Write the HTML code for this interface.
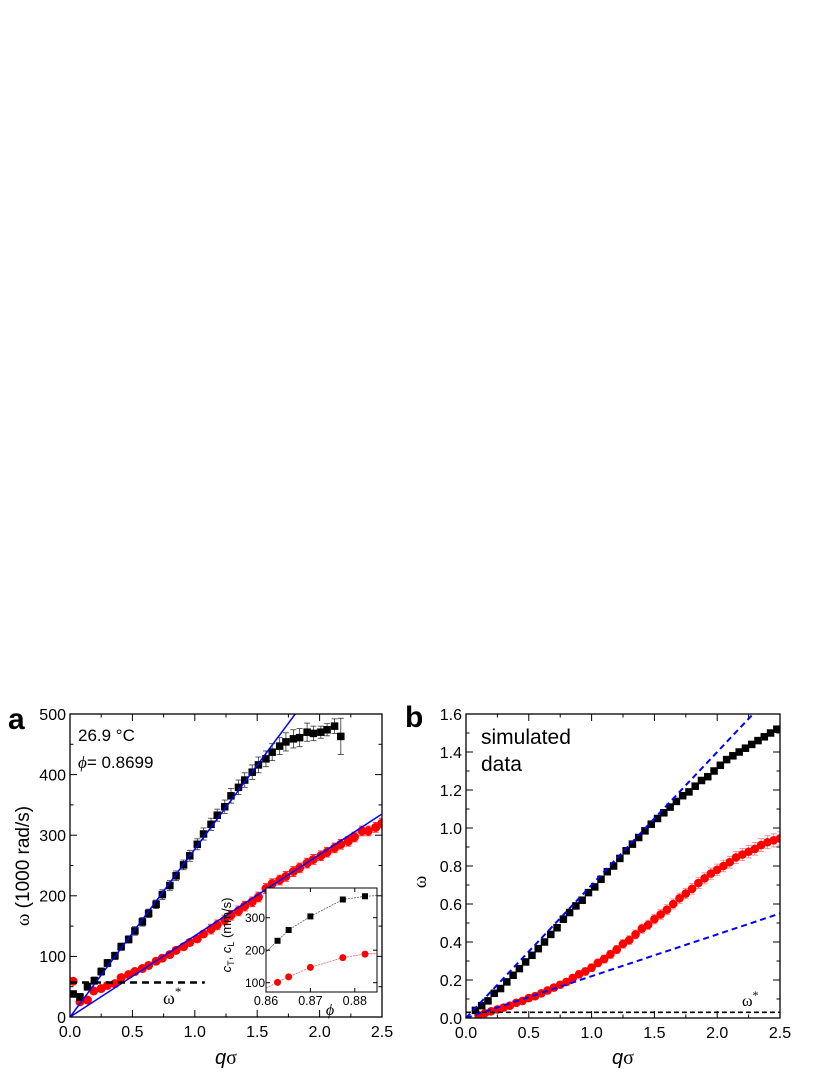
<!DOCTYPE html>
<html><head><meta charset="utf-8"><style>
body{margin:0;background:#fff}
svg{display:block;font-family:"Liberation Sans",Arial,sans-serif}
</style></head><body>
<svg id="s" width="830" height="1075" viewBox="0 0 830 1075"></svg>
<script>
// ---- Panel a data ----
const aBlackQ=[0.025,0.08,0.14,0.195,0.25,0.3,0.36,0.41,0.47,0.52,0.58,0.63,0.69,0.74,0.8,0.85,0.91,0.96,1.02,1.07,1.13,1.18,1.24,1.29,1.35,1.4,1.46,1.51,1.57,1.62,1.68,1.73,1.79,1.84,1.9,1.95,2.01,2.06,2.12,2.17];
const aBlackW=[38,33,50,60,75,89,101,116,128,142,157,171,186,202,217,233,251,266,285,302,318,333,347,365,379,391,404,416,426,437,447,454,459,461,470,468,470,474,480,463];
const aBlackErr=[5,6,6,6,6,6,6,6,6,7,7,7,7,8,8,8,8,9,9,10,10,10,11,12,12,12,12,13,13,14,14,15,15,15,15,12,10,10,12,30];
const aRedQ=[0.025,0.08,0.14,0.19,0.25,0.3,0.36,0.41,0.47,0.52,0.58,0.63,0.69,0.74,0.8,0.85,0.91,0.96,1.02,1.07,1.13,1.18,1.24,1.29,1.35,1.4,1.46,1.51,1.57,1.62,1.68,1.73,1.79,1.84,1.9,1.95,2.01,2.06,2.12,2.17,2.23,2.28,2.34,2.39,2.45,2.5];
const aRedW=[59,25,28,43,47,52,55,65,70,75,80,85,92,97,103,110,116,123,129,137,145,152,160,168,175,183,190,198,212,220,226,232,240,246,254,260,266,272,279,285,290,297,307,307,313,320];
const aSlopes=[277,134];
const aOmegaStar=57;
const aXTicks=[0,0.5,1.0,1.5,2.0,2.5];
const aYTicks=[0,100,200,300,400,500];
// inset
const inPhi=[0.8626,0.8651,0.87,0.8773,0.8823];
const inCT=[229,262,304,356,366];
const inCL=[101,118,147,177,188];
const inXTicks=[0.86,0.87,0.88];
const inYTicks=[100,200,300];
// ---- Panel b data ----
const bBlackQ=[0.075,0.125,0.175,0.225,0.275,0.325,0.375,0.425,0.475,0.525,0.575,0.625,0.675,0.725,0.775,0.825,0.875,0.925,0.975,1.025,1.075,1.125,1.175,1.225,1.275,1.325,1.375,1.425,1.475,1.525,1.575,1.625,1.675,1.725,1.775,1.825,1.875,1.925,1.975,2.025,2.075,2.125,2.175,2.225,2.275,2.325,2.375,2.425,2.475];
const bBlackW=[0.04,0.065,0.09,0.13,0.155,0.19,0.225,0.26,0.295,0.33,0.365,0.40,0.44,0.475,0.52,0.555,0.59,0.62,0.66,0.69,0.73,0.77,0.80,0.84,0.88,0.915,0.95,0.985,1.02,1.05,1.08,1.11,1.14,1.17,1.19,1.22,1.25,1.27,1.30,1.33,1.36,1.38,1.40,1.42,1.44,1.46,1.48,1.50,1.52];
const bRedQ=[0.1,0.15,0.2,0.25,0.3,0.35,0.4,0.45,0.5,0.55,0.6,0.65,0.7,0.75,0.8,0.85,0.9,0.95,1.0,1.05,1.1,1.15,1.2,1.25,1.3,1.35,1.4,1.45,1.5,1.55,1.6,1.65,1.7,1.75,1.8,1.85,1.9,1.95,2.0,2.05,2.1,2.15,2.2,2.25,2.3,2.35,2.4,2.45,2.5];
const bRedW=[0.015,0.025,0.035,0.045,0.055,0.065,0.08,0.09,0.105,0.115,0.13,0.145,0.16,0.175,0.19,0.21,0.23,0.245,0.265,0.29,0.31,0.335,0.36,0.39,0.41,0.44,0.47,0.49,0.52,0.545,0.57,0.60,0.63,0.655,0.68,0.71,0.735,0.76,0.78,0.80,0.82,0.845,0.86,0.875,0.89,0.91,0.925,0.935,0.945];
const bSlopes=[0.70,0.22];
const bOmegaStar=0.03;
const bXTicks=[0,0.5,1.0,1.5,2.0,2.5];
const bYTicks=[0,0.2,0.4,0.6,0.8,1.0,1.2,1.4,1.6];

const NS="http://www.w3.org/2000/svg";
const svg=document.getElementById('s');
function mk(tag,attrs,parent,text){const e=document.createElementNS(NS,tag);for(const k in attrs)e.setAttribute(k,attrs[k]);if(text!==undefined)e.textContent=text;(parent||svg).appendChild(e);return e;}
function scale(d0,d1,r0,r1){return v=>r0+(v-d0)/(d1-d0)*(r1-r0);}

function axes(g,X,Y,xt,yt,xmin,xmax,ymin,ymax,fmtx,fmty,fs,tl){
  const x0=X(xmin),x1=X(xmax),y0=Y(ymin),y1=Y(ymax);
  for(let i=0;i<xt.length-1;i++){const m=(xt[i]+xt[i+1])/2;const px=X(m);
    mk('line',{x1:px,x2:px,y1:y0,y2:y0-tl/2,stroke:'#000','stroke-width':1},g);
    mk('line',{x1:px,x2:px,y1:y1,y2:y1+tl/2,stroke:'#000','stroke-width':1},g);}
  for(let i=0;i<yt.length-1;i++){const m=(yt[i]+yt[i+1])/2;const py=Y(m);
    mk('line',{x1:x0,x2:x0+tl/2,y1:py,y2:py,stroke:'#000','stroke-width':1},g);
    mk('line',{x1:x1,x2:x1-tl/2,y1:py,y2:py,stroke:'#000','stroke-width':1},g);}
  xt.forEach(v=>{const px=X(v);
    mk('line',{x1:px,x2:px,y1:y0,y2:y0-tl,stroke:'#000','stroke-width':1},g);
    mk('line',{x1:px,x2:px,y1:y1,y2:y1+tl,stroke:'#000','stroke-width':1},g);
    const t=mk('text',{x:px,y:y0+fs+4,'font-size':fs,'text-anchor':'middle'},g,fmtx(v));
    
    });
  yt.forEach(v=>{const py=Y(v);
    mk('line',{x1:x0,x2:x0+tl,y1:py,y2:py,stroke:'#000','stroke-width':1},g);
    mk('line',{x1:x1,x2:x1-tl,y1:py,y2:py,stroke:'#000','stroke-width':1},g);
    const t=mk('text',{x:x0-4,y:py+fs*0.36,'font-size':fs,'text-anchor':'end'},g,fmty(v));
    
    });
  const r=mk('rect',{x:x0,y:y1,width:x1-x0,height:y0-y1,fill:'none',stroke:'#000','stroke-width':1.3},g);
  
  
}
function sq(g,x,y,s,fill,name){const e=mk('rect',{x:x-s/2,y:y-s/2,width:s,height:s,fill:fill},g);return e;}
function circ(g,x,y,r,fill,name){const e=mk('circle',{cx:x,cy:y,r:r,fill:fill},g);return e;}
function errbar(g,x,yA,yB,col){mk('line',{x1:x,x2:x,y1:yA,y2:yB,stroke:col,'stroke-width':0.8},g);
  mk('line',{x1:x-3,x2:x+3,y1:yA,y2:yA,stroke:col,'stroke-width':0.8},g);
  mk('line',{x1:x-3,x2:x+3,y1:yB,y2:yB,stroke:col,'stroke-width':0.8},g);}

// ===== Panel a =====
const ga=mk('g',{});
const aX=scale(0,2.5,70,382), aY=scale(0,500,1017,714);
mk('defs',{}).innerHTML='<clipPath id="ca"><rect x="70" y="714" width="312" height="303"/></clipPath><clipPath id="cb"><rect x="466" y="714" width="314" height="304"/></clipPath>';
const gaClip=mk('g',{'clip-path':'url(#ca)'},ga);
aRedQ.forEach((q,i)=>{const e=i<3?4:(i<20?5:8);errbar(gaClip,aX(q),aY(aRedW[i]-e),aY(aRedW[i]+e),'#f00');});
aRedQ.forEach((q,i)=>circ(gaClip,aX(q),aY(aRedW[i]),4.5,'#f00','red-point'));
aBlackQ.forEach((q,i)=>errbar(gaClip,aX(q),aY(aBlackW[i]-aBlackErr[i]),aY(aBlackW[i]+aBlackErr[i]),'#333'));
aBlackQ.forEach((q,i)=>sq(gaClip,aX(q),aY(aBlackW[i]),7.5,'#000','black-point'));
aSlopes.forEach(s=>{const l=mk('line',{x1:aX(0),y1:aY(0),x2:aX(2.5),y2:aY(s*2.5),stroke:'#00f','stroke-width':1.5},gaClip);});
{const l=mk('line',{x1:aX(0),y1:aY(aOmegaStar),x2:aX(1.08),y2:aY(aOmegaStar),stroke:'#000','stroke-width':2.5,'stroke-dasharray':'7,5'},ga);}
{const t=mk('text',{x:163,y:1004,'font-size':18,'font-family':'Liberation Serif,serif'},ga);t.innerHTML='ω<tspan dy="-8" font-size="13">*</tspan>';}
axes(ga,aX,aY,aXTicks,aYTicks,0,2.5,0,500,v=>v.toFixed(1),v=>String(v),16,7);
{const t=mk('text',{x:78,y:741,'font-size':17},ga,'26.9 °C');}
{const t=mk('text',{x:78,y:768,'font-size':17},ga);t.innerHTML='<tspan font-style="italic" font-family="Liberation Serif,serif">ϕ</tspan>= 0.8699';}
// inset
const gi=mk('g',{},ga);
const ix0=266,ix1=377,iy0=992,iy1=888;
mk('rect',{x:ix0,y:iy1,width:ix1-ix0,height:iy0-iy1,fill:'#fff'},gi);
const iX=scale(0.86,0.885,ix0,ix1), iY=scale(100,300,982.7,917.7);
{
 const gic=mk('g',{},gi);
 function fitPath(vals,col,name){let d='';const xs=[0.86,0.8626,0.8651,0.87,0.8773,0.8823,0.885];
   const ext=[vals[0]-(vals[1]-vals[0])*1.04].concat(vals).concat([vals[4]+(vals[4]-vals[3])*0.2]);
   xs.forEach((x,i)=>{d+=(i?'L':'M')+iX(x).toFixed(1)+','+iY(ext[i]).toFixed(1);});
   const p=mk('path',{d:d,fill:'none',stroke:col,'stroke-width':0.7,'stroke-dasharray':'2,1','stroke-opacity':0.7},gic);}
 fitPath(inCT,'#000','ct-fit');fitPath(inCL,'#f00','cl-fit');
 inPhi.forEach((p,i)=>sq(gic,iX(p),iY(inCT[i]),6,'#000','ct-point'));
 inPhi.forEach((p,i)=>circ(gic,iX(p),iY(inCL[i]),3.5,'#f00','cl-point'));
 inXTicks.forEach(v=>{const px=iX(v);mk('line',{x1:px,x2:px,y1:iy0,y2:iy0-4,stroke:'#000'},gi);mk('line',{x1:px,x2:px,y1:iy1,y2:iy1+4,stroke:'#000'},gi);
   const t=mk('text',{x:px,y:iy0+13,'font-size':12.5,'text-anchor':'middle'},gi,v.toFixed(2));});
 inYTicks.forEach(v=>{const py=iY(v);mk('line',{x1:ix0,x2:ix0+4,y1:py,y2:py,stroke:'#000'},gi);mk('line',{x1:ix1,x2:ix1-4,y1:py,y2:py,stroke:'#000'},gi);
   const t=mk('text',{x:ix0-1,y:py+4.5,'font-size':12,'text-anchor':'end'},gi,String(v));});
 mk('rect',{x:ix0,y:iy1,width:ix1-ix0,height:iy0-iy1,fill:'none',stroke:'#000','stroke-width':1},gi);
 const xl=mk('text',{x:330,y:1015,'font-size':16,'font-style':'italic','font-family':'Liberation Serif,serif','text-anchor':'middle'},gi,'ϕ');
 const yl=mk('text',{transform:'translate(231,935) rotate(-90)','font-size':13,'text-anchor':'middle'},gi);
 yl.innerHTML='<tspan font-style="italic">c</tspan><tspan font-size="9" dy="3">T</tspan><tspan dy="-3">, </tspan><tspan font-style="italic">c</tspan><tspan font-size="9" dy="3">L</tspan><tspan dy="-3"> (mm/s)</tspan>';
 
}
{const t=mk('text',{x:8,y:729,'font-size':30,'font-weight':'bold'},ga,'a');}
{const t=mk('text',{transform:'translate(29,866) rotate(-90)','font-size':19,'text-anchor':'middle'},ga);t.innerHTML='<tspan font-family="Liberation Serif,serif">ω</tspan> (1000 rad/s)';}
{const t=mk('text',{x:226,y:1064,'font-size':20,'text-anchor':'middle','font-family':'Liberation Serif,serif'},ga);t.innerHTML='<tspan font-style="italic" font-family="Liberation Sans,sans-serif">q</tspan>σ';}

// ===== Panel b =====
const gb=mk('g',{});
const bX=scale(0,2.5,466,780), bY=scale(0,1.6,1018,714);
const gbClip=mk('g',{'clip-path':'url(#cb)'},gb);
bRedQ.forEach((q,i)=>{const e=0.01+0.01*q;errbar(gbClip,bX(q),bY(bRedW[i]-e),bY(bRedW[i]+e),'#f77');});
bRedQ.forEach((q,i)=>circ(gbClip,bX(q),bY(bRedW[i]),4.3,'#f00','red-point'));
bBlackQ.forEach((q,i)=>sq(gbClip,bX(q),bY(bBlackW[i]),7.5,'#000','black-point'));
bSlopes.forEach(s=>{const l=mk('line',{x1:bX(0),y1:bY(0),x2:bX(2.5),y2:bY(s*2.5),stroke:'#00f','stroke-width':2,'stroke-dasharray':'6,4'},gbClip);});
{const l=mk('line',{x1:bX(0),y1:bY(bOmegaStar),x2:bX(2.5),y2:bY(bOmegaStar),stroke:'#000','stroke-width':1.6,'stroke-dasharray':'5,3'},gb);}
{const t=mk('text',{x:742,y:1006,'font-size':16,'font-family':'Liberation Serif,serif'},gb);t.innerHTML='ω<tspan dy="-7" font-size="12">*</tspan>';}
axes(gb,bX,bY,bXTicks,bYTicks,0,2.5,0,1.6,v=>v.toFixed(1),v=>v.toFixed(1),16,7);
{const t=mk('text',{x:481,y:744,'font-size':21},gb,'simulated');}
{const t=mk('text',{x:481,y:771,'font-size':21},gb,'data');}
{const t=mk('text',{x:405,y:727,'font-size':30,'font-weight':'bold'},gb,'b');}
{const t=mk('text',{transform:'translate(426,882) rotate(-90)','font-size':19,'text-anchor':'middle','font-family':'Liberation Serif,serif'},gb,'ω');}
{const t=mk('text',{x:623,y:1064,'font-size':20,'text-anchor':'middle','font-family':'Liberation Serif,serif'},gb);t.innerHTML='<tspan font-style="italic" font-family="Liberation Sans,sans-serif">q</tspan>σ';}
</script>
</body></html>
